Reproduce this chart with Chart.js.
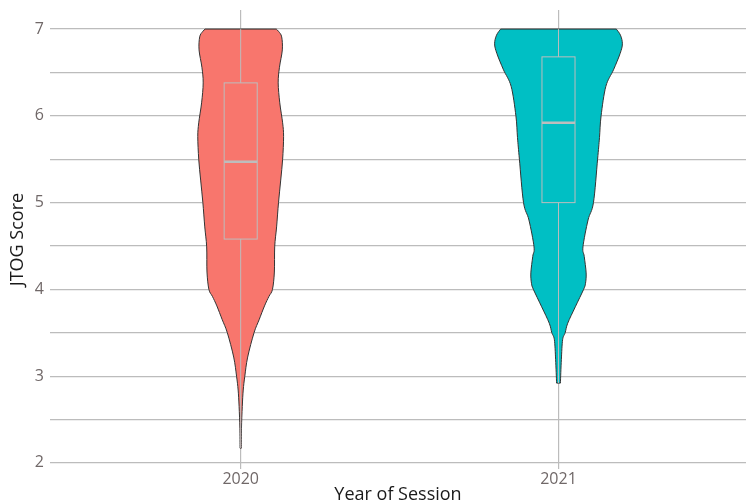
<!DOCTYPE html>
<html>
<head>
<meta charset="utf-8">
<script src="https://cdn.jsdelivr.net/npm/chart.js@4.4.0/dist/chart.umd.min.js"></script>
<style>
  body { margin: 0; background: #fff; }
  #wrap { width: 746px; height: 504px; }
</style>
</head>
<body>
<div id="wrap"><canvas id="chart"></canvas></div>
<script>
// categories and axis ticks
const years = ['2020', '2021'];
const yGrid = [2, 2.5, 3, 3.5, 4, 4.5, 5, 5.5, 6, 6.5, 7];
const yLabels = [2, 3, 4, 5, 6, 7];

// violin outlines: score level and half width (in x units)
const violinY2020 = [7.0, 6.97, 6.91, 6.76, 6.56, 6.38, 6.15, 5.92, 5.76, 5.5, 5.26, 5.0, 4.72, 4.49, 4.2, 4.0, 3.92, 3.81, 3.65, 3.5, 3.22, 3.0, 2.84, 2.65, 2.4, 2.17];
const violinW2020 = [0.112, 0.120, 0.129, 0.131, 0.122, 0.118, 0.123, 0.132, 0.135, 0.132, 0.126, 0.119, 0.113, 0.107, 0.106, 0.100, 0.089, 0.075, 0.058, 0.042, 0.022, 0.013, 0.008, 0.005, 0.0025, 0.002];
const violinY2021 = [7.0, 6.93, 6.83, 6.72, 6.53, 6.34, 6.0, 5.75, 5.5, 5.0, 4.8, 4.49, 4.38, 4.19, 4.07, 4.0, 3.8, 3.61, 3.5, 3.42, 3.19, 2.92];
const violinW2021 = [0.182, 0.195, 0.201, 0.194, 0.173, 0.149, 0.134, 0.129, 0.123, 0.110, 0.093, 0.077, 0.081, 0.087, 0.085, 0.079, 0.053, 0.029, 0.021, 0.013, 0.009, 0.006];

// boxplot stats per year
const q1 = [4.58, 5.0];
const medians = [5.47, 5.92];
const q3 = [6.38, 6.68];
const whiskerLow = [2.17, 2.92];
const whiskerHigh = [7.0, 7.0];

const fillColors = ['#F8766D', '#00BFC4'];

const violins = [
  { y: violinY2020, w: violinW2020 },
  { y: violinY2021, w: violinW2021 }
];

// smooth curve through points (catmull-rom -> bezier)
function smoothPath(ctx, pts, first) {
  if (first) ctx.moveTo(pts[0][0], pts[0][1]);
  else ctx.lineTo(pts[0][0], pts[0][1]);
  for (let i = 0; i < pts.length - 1; i++) {
    const p0 = pts[i - 1] || pts[i];
    const p1 = pts[i];
    const p2 = pts[i + 1];
    const p3 = pts[i + 2] || p2;
    ctx.bezierCurveTo(
      p1[0] + (p2[0] - p0[0]) / 6, p1[1] + (p2[1] - p0[1]) / 6,
      p2[0] - (p3[0] - p1[0]) / 6, p2[1] - (p3[1] - p1[1]) / 6,
      p2[0], p2[1]
    );
  }
}

const violinPlugin = {
  id: 'violins',
  afterDatasetsDraw(chart) {
    const ctx = chart.ctx;
    const xs = chart.scales.x;
    const ys = chart.scales.y;
    ctx.save();
    violins.forEach((v, i) => {
      const cx = i + 1;
      const right = v.y.map((yv, k) => [xs.getPixelForValue(cx + v.w[k]), ys.getPixelForValue(yv)]);
      const left = v.y.map((yv, k) => [xs.getPixelForValue(cx - v.w[k]), ys.getPixelForValue(yv)]).reverse();
      ctx.beginPath();
      smoothPath(ctx, right, true);
      smoothPath(ctx, left, false);
      ctx.closePath();
      ctx.fillStyle = fillColors[i];
      ctx.fill();
      ctx.lineWidth = 1;
      ctx.strokeStyle = '#333333';
      ctx.stroke();

      // box and whiskers
      const xc = xs.getPixelForValue(cx);
      const xl = xs.getPixelForValue(cx - 0.052);
      const xr = xs.getPixelForValue(cx + 0.052);
      const yq1 = ys.getPixelForValue(q1[i]);
      const yq3 = ys.getPixelForValue(q3[i]);
      const ym = ys.getPixelForValue(medians[i]);
      ctx.strokeStyle = '#bdbdbd';
      ctx.lineWidth = 1;
      ctx.beginPath();
      ctx.moveTo(xc, ys.getPixelForValue(whiskerHigh[i]));
      ctx.lineTo(xc, yq3);
      ctx.moveTo(xc, yq1);
      ctx.lineTo(xc, ys.getPixelForValue(whiskerLow[i]));
      ctx.stroke();
      ctx.strokeRect(xl, yq3, xr - xl, yq1 - yq3);
      ctx.lineWidth = 2.5;
      ctx.beginPath();
      ctx.moveTo(xl, ym);
      ctx.lineTo(xr, ym);
      ctx.stroke();
    });
    ctx.restore();
  }
};

const gridStyle = { color: '#bcbcbc', lineWidth: 1.2, drawTicks: false };
const tickFont = { family: 'Open Sans', size: 16 };
const titleFont = { family: 'Open Sans', size: 18 };

new Chart(document.getElementById('chart'), {
  type: 'scatter',
  data: { datasets: [] },
  plugins: [violinPlugin],
  options: {
    responsive: true,
    maintainAspectRatio: false,
    animation: false,
    layout: { padding: { top: 10, right: 0, left: 0, bottom: 0 } },
    plugins: { legend: { display: false }, tooltip: { enabled: false } },
    scales: {
      x: {
        type: 'linear',
        min: 0.4,
        max: 2.59,
        afterBuildTicks: s => { s.ticks = years.map((y, i) => ({ value: i + 1 })); },
        afterFit: s => { s.height = 35; s.paddingLeft = 0; s.paddingRight = 0; },
        grid: gridStyle,
        border: { display: false },
        ticks: {
          padding: 1,
          autoSkip: false,
          maxRotation: 0,
          color: '#706868',
          font: tickFont,
          callback: v => years[v - 1]
        },
        title: { display: true, text: 'Year of Session', color: '#1a1a1a', font: { family: 'Open Sans', size: 18, lineHeight: 1.0 }, padding: 0 }
      },
      y: {
        min: 1.93,
        max: 7.22,
        afterBuildTicks: s => { s.ticks = yGrid.map(v => ({ value: v })); },
        afterFit: s => { s.width = 50; s.paddingTop = 0; s.paddingBottom = 0; },
        grid: gridStyle,
        border: { display: false },
        ticks: {
          padding: 6,
          autoSkip: false,
          color: '#706868',
          font: tickFont,
          callback: v => (yLabels.includes(v) ? v : '')
        },
        title: { display: true, text: 'JTOG Score', color: '#1a1a1a', font: titleFont, padding: { top: 7, bottom: 0 } }
      }
    }
  }
});
</script>
</body>
</html>
